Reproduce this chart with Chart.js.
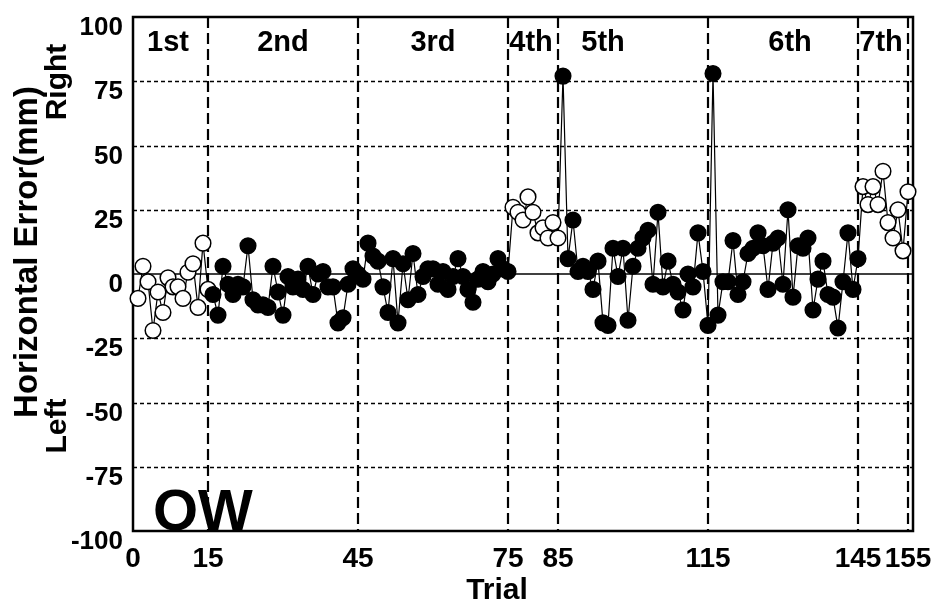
<!DOCTYPE html>
<html>
<head>
<meta charset="utf-8">
<script src="https://cdn.jsdelivr.net/npm/chart.js@4/dist/chart.umd.min.js"></script>
<style>
  html, body { margin: 0; padding: 0; background: #fff; }
  canvas { display: block; }
</style>
</head>
<body>
<canvas id="chart" width="936" height="604"></canvas>
<script>
// Horizontal error (mm) per trial, one array per session
const session1 = [-9.5, 3, -3, -22, -7, -15, -1.5, -5, -5, -9.5, 0.7, 4, -13, 12, -6];
const session2 = [-8, -16, 3, -4, -8, -4, -5, 11, -10, -12, -12, -13, 3, -7, -16,
                  -1, -5, -2, -6, 3, -8, 0, 1, -5, -5, -19, -17, -4, 2, 0];
const session3 = [-2, 12, 7, 5, -5, -15, 6, -19, 4, -10, 8, -8, -1, 2, 2,
                  -4, 1, -6, -1, 6, -1, -6, -11, -2, 1, -3, 0, 6, 2, 1];
const session4 = [26, 24, 21, 30, 24, 16, 18, 14, 20, 14];
const session5 = [77, 6, 21, 1, 3, 1, -6, 5, -19, -20, 10, -1, 10, -18, 3,
                  10, 14, 17, -4, 24, -5, 5, -4, -7, -14, 0, -5, 16, 1, -20];
const session6 = [78, -16, -3, -3, 13, -8, -3, 8, 10, 16, 11, -6, 12, 14, -4,
                  25, -9, 11, 10, 14, -14, -2, 5, -8, -9, -21, -3, 16, -6, 6];
const session7 = [34, 27, 34, 27, 40, 20, 14, 25, 9, 32];

const sessionNames = ['1st', '2nd', '3rd', '4th', '5th', '6th', '7th'];
const sessionEnds = [15, 45, 75, 85, 115, 145, 155];     // last trial of each session
const sessionLabelAt = [7, 30, 60, 79.6, 94, 131.4, 149.6]; // trial position of each session name
const openMarkerSessions = ['1st', '4th', '7th'];

const xTickValues = [0, 15, 45, 75, 85, 115, 145, 155];
const yGridValues = [-75, -50, -25, 25, 50, 75];

const sessions = [session1, session2, session3, session4, session5, session6, session7];
const points = [];
const fills = [];
let trial = 0;
sessions.forEach((vals, k) => {
  const open = openMarkerSessions.includes(sessionNames[k]);
  vals.forEach(v => {
    trial += 1;
    points.push({ x: trial, y: v });
    fills.push(open ? '#ffffff' : '#000000');
  });
});

const FONT = '"Liberation Sans", Arial, Helvetica, sans-serif';

const framePlugin = {
  id: 'frame',
  beforeDatasetsDraw(chart) {
    const { ctx, chartArea: a, scales: { x, y } } = chart;
    ctx.save();
    ctx.strokeStyle = '#000';

    // dotted horizontal grid
    ctx.lineWidth = 1.3;
    ctx.setLineDash([4, 3]);
    yGridValues.forEach(v => {
      const py = Math.round(y.getPixelForValue(v)) + 0.5;
      ctx.beginPath(); ctx.moveTo(a.left, py); ctx.lineTo(a.right, py); ctx.stroke();
    });

    // zero line
    ctx.setLineDash([]);
    ctx.lineWidth = 1.5;
    const p0 = y.getPixelForValue(0);
    ctx.beginPath(); ctx.moveTo(a.left, p0); ctx.lineTo(a.right, p0); ctx.stroke();

    // session dividers
    ctx.setLineDash([11, 5]);
    ctx.lineWidth = 2.2;
    sessionEnds.forEach(v => {
      const px = x.getPixelForValue(v);
      ctx.beginPath(); ctx.moveTo(px, a.top); ctx.lineTo(px, a.bottom); ctx.stroke();
    });

    // plot frame
    ctx.setLineDash([]);
    ctx.lineWidth = 2.5;
    ctx.strokeRect(a.left, a.top, a.right - a.left, a.bottom - a.top);

    // session names
    ctx.fillStyle = '#000';
    ctx.font = 'bold 29px ' + FONT;
    ctx.textAlign = 'center';
    ctx.textBaseline = 'middle';
    sessionNames.forEach((name, i) => {
      ctx.fillText(name, x.getPixelForValue(sessionLabelAt[i]), y.getPixelForValue(90));
    });

    // subject tag
    ctx.textAlign = 'left';
    ctx.textBaseline = 'alphabetic';
    ctx.font = 'bold 58px ' + FONT;
    ctx.fillText('OW', a.left + 20, a.bottom - 1);
    ctx.restore();
  },
  afterDraw(chart) {
    const { ctx } = chart;
    ctx.save();
    ctx.fillStyle = '#000';
    ctx.textBaseline = 'alphabetic';
    ctx.textAlign = 'center';

    // x-axis title
    ctx.font = 'bold 30px ' + FONT;
    ctx.fillText('Trial', 497, 599);

    // y-axis titles (rotated)
    const vtext = (txt, bx, cy, size) => {
      ctx.save();
      ctx.translate(bx, cy);
      ctx.rotate(-Math.PI / 2);
      ctx.font = 'bold ' + size + 'px ' + FONT;
      ctx.fillText(txt, 0, 0);
      ctx.restore();
    };
    vtext('Horizontal Error(mm)', 37, 252, 33);
    vtext('Right', 66, 82, 30);
    vtext('Left', 66, 426, 30);
    ctx.restore();
  }
};

new Chart(document.getElementById('chart'), {
  type: 'line',
  data: {
    datasets: [{
      data: points,
      borderColor: '#000',
      borderWidth: 1.2,
      tension: 0,
      pointRadius: 7.8,
      pointBorderWidth: 1.5,
      pointBorderColor: '#000',
      pointBackgroundColor: fills,
      clip: false
    }]
  },
  options: {
    responsive: false,
    animation: false,
    devicePixelRatio: 1,
    events: [],
    layout: { padding: { left: 0, right: 23, top: 17, bottom: 0 } },
    plugins: { legend: { display: false }, tooltip: { enabled: false } },
    scales: {
      x: {
        type: 'linear',
        min: 0,
        max: 156,
        grid: { display: false, drawTicks: false },
        border: { display: false },
        afterBuildTicks: s => { s.ticks = xTickValues.map(v => ({ value: v })); },
        afterFit: s => { s.height = 73; s.paddingLeft = 0; s.paddingRight = 0; },
        ticks: {
          autoSkip: false,
          maxRotation: 0,
          minRotation: 0,
          padding: 11,
          color: '#000',
          font: { family: FONT, size: 28, weight: 'bold' }
        }
      },
      y: {
        min: -100,
        max: 100,
        grid: { display: false, drawTicks: false },
        border: { display: false },
        afterFit: s => { s.width = 133; s.paddingTop = 0; s.paddingBottom = 0; },
        ticks: {
          stepSize: 25,
          padding: 10,
          labelOffset: 11,
          color: '#000',
          font: { family: FONT, size: 26, weight: 'bold' }
        }
      }
    }
  },
  plugins: [framePlugin]
});
</script>
</body>
</html>
